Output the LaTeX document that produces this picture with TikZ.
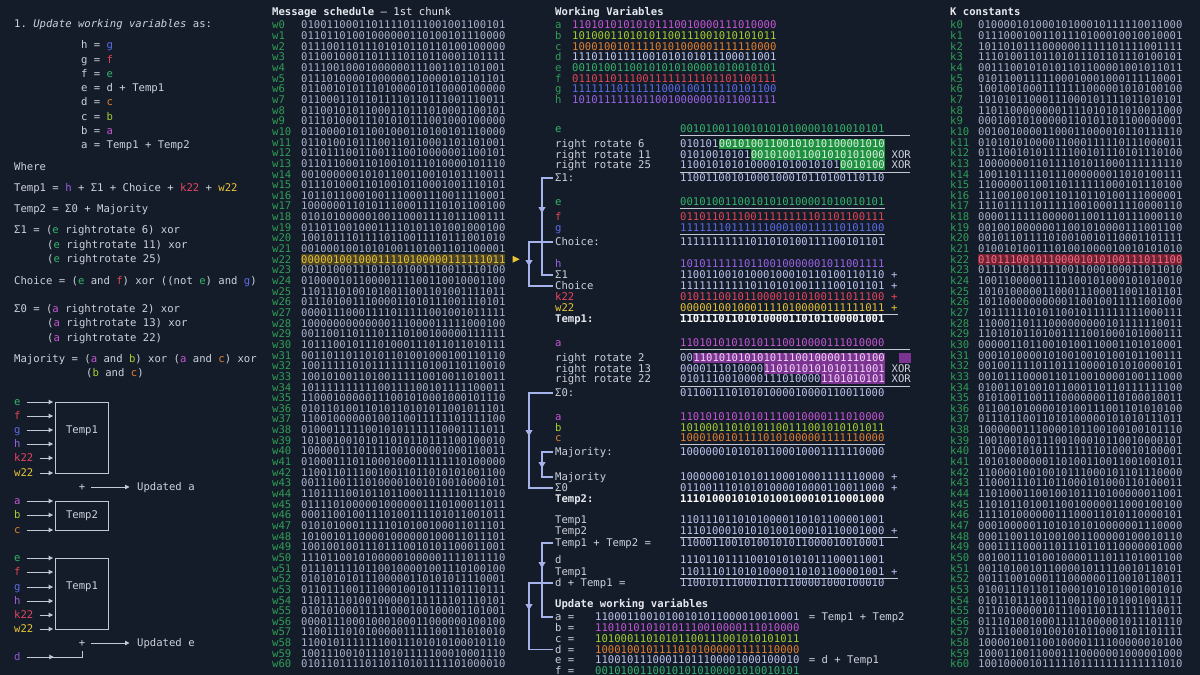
\documentclass[tikz,border=0pt]{standalone}
\usepackage{fontspec}
\setmainfont{DejaVu Sans Mono}
\usetikzlibrary{arrows.meta,positioning,decorations.markings}

\definecolor{bg}{HTML}{141B29}
\definecolor{fg}{HTML}{CDD2DC}
\definecolor{hd}{HTML}{E6E9EF}
\definecolor{bitc}{HTML}{A9B3CC}
\definecolor{lab}{HTML}{2F9E55}
\definecolor{wvb}{HTML}{BCC5EE}
\definecolor{ca}{HTML}{C656D6}
\definecolor{cb}{HTML}{A4D030}
\definecolor{cc}{HTML}{E3812F}
\definecolor{cd}{HTML}{C3CBF4}
\definecolor{cdl}{HTML}{9358D8}
\definecolor{ce}{HTML}{34B56B}
\definecolor{cf}{HTML}{E24654}
\definecolor{cg}{HTML}{5C6DE8}
\definecolor{ch}{HTML}{9B63E6}
\definecolor{ck}{HTML}{E4465F}
\definecolor{cw}{HTML}{E8C434}
\definecolor{brk}{HTML}{A6B2EA}
\definecolor{uln}{HTML}{C3C8D4}
\definecolor{hlgreen}{HTML}{1F9040}
\definecolor{hlgtext}{HTML}{D8F2DE}
\definecolor{hlpurple}{HTML}{7C3492}
\definecolor{hlptext}{HTML}{F2D4F6}
\definecolor{wybg}{HTML}{4A4226}
\definecolor{krbg}{HTML}{6E2233}
\definecolor{krtext}{HTML}{FF6A82}

% 32-bit words as strings of 0/1
\ExplSyntaxOn
\tl_new:N \l_sha_tmp_tl
\tl_new:N \l_sha_p_tl
\tl_new:N \l_sha_q_tl
\tl_new:N \l_sha_r_tl
\tl_new:N \l_sha_x_tl
\tl_new:N \l_sha_sa_tl
\tl_new:N \l_sha_sb_tl
\clist_new:N \l_sha_words_clist
\int_new:N \l_sha_sum_int
\int_new:N \l_sha_carry_int
\int_new:N \l_sha_i_int
\clist_map_inline:nn { a, b, c, d, e, f, g, h, bsone, ch, tone, bszero, maj, ttwo, na, ne,
  ersix, ereleven, ertwentyfive, artwo, arthirteen, artwentytwo }
  { \tl_new:c { l_sha_#1_tl } }

\cs_new:Npn \sha_hexdigit:n #1
  {
    \str_case:nn {#1}
      { {0}{0000} {1}{0001} {2}{0010} {3}{0011} {4}{0100} {5}{0101} {6}{0110} {7}{0111}
        {8}{1000} {9}{1001} {a}{1010} {b}{1011} {c}{1100} {d}{1101} {e}{1110} {f}{1111} }
  }
\cs_new:Npn \sha_hexbin:n #1 { \tl_map_function:nN {#1} \sha_hexdigit:n }
\cs_new:Npn \sha_rotr:Nn #1#2
  { \str_range:Nnn #1 { 33 - #2 } { 32 } \str_range:Nnn #1 { 1 } { 32 - #2 } }
\cs_new:Npn \sha_shr:Nn #1#2
  { \prg_replicate:nn {#2} { 0 } \str_range:Nnn #1 { 1 } { 32 - #2 } }
\cs_new:Npn \sha_xorbit:nnn #1#2#3 { \int_eval:n { \int_mod:nn { #1 + #2 + #3 } { 2 } } }
\cs_new:Npn \sha_chbit:nnn #1#2#3 { \int_eval:n { #1 * #2 + ( 1 - #1 ) * #3 } }
\cs_new:Npn \sha_majbit:nnn #1#2#3 { \int_eval:n { \int_div_truncate:nn { #1 + #2 + #3 } { 2 } } }

\cs_new_protected:Npn \sha_bitwise:NNNNN #1#2#3#4#5
  {
    \tl_clear:N \l_sha_tmp_tl
    \int_step_inline:nn { 32 }
      {
        \tl_put_right:Nx \l_sha_tmp_tl
          { #2 { \str_item:Nn #3 {##1} } { \str_item:Nn #4 {##1} } { \str_item:Nn #5 {##1} } }
      }
    \tl_set_eq:NN #1 \l_sha_tmp_tl
  }
\cs_new_protected:Npn \sha_add:Nn #1#2
  {
    \clist_set:Nx \l_sha_words_clist {#2}
    \tl_clear:N \l_sha_tmp_tl
    \int_zero:N \l_sha_carry_int
    \int_step_inline:nnnn { 32 } { -1 } { 1 }
      {
        \int_set_eq:NN \l_sha_sum_int \l_sha_carry_int
        \clist_map_inline:Nn \l_sha_words_clist
          { \int_add:Nn \l_sha_sum_int { \str_item:nn {####1} {##1} } }
        \tl_put_left:Nx \l_sha_tmp_tl { \int_eval:n { \int_mod:nn { \l_sha_sum_int } { 2 } } }
        \int_set:Nn \l_sha_carry_int { \int_div_truncate:nn { \l_sha_sum_int } { 2 } }
      }
    \tl_set_eq:NN #1 \l_sha_tmp_tl
  }
\cs_new_protected:Npn \sha_bigsig:NNnnn #1#2#3#4#5
  {
    \tl_set:Nx \l_sha_p_tl { \sha_rotr:Nn #2 {#3} }
    \tl_set:Nx \l_sha_q_tl { \sha_rotr:Nn #2 {#4} }
    \tl_set:Nx \l_sha_r_tl { \sha_rotr:Nn #2 {#5} }
    \sha_bitwise:NNNNN #1 \sha_xorbit:nnn \l_sha_p_tl \l_sha_q_tl \l_sha_r_tl
  }
\cs_new_protected:Npn \sha_smallsig:NNnnn #1#2#3#4#5
  {
    \tl_set:Nx \l_sha_p_tl { \sha_rotr:Nn #2 {#3} }
    \tl_set:Nx \l_sha_q_tl { \sha_rotr:Nn #2 {#4} }
    \tl_set:Nx \l_sha_r_tl { \sha_shr:Nn #2 {#5} }
    \sha_bitwise:NNNNN #1 \sha_xorbit:nnn \l_sha_p_tl \l_sha_q_tl \l_sha_r_tl
  }
\cs_new_protected:Npn \sha_store:nn #1#2
  {
    \int_zero:N \l_sha_i_int
    \clist_map_inline:nn {#2}
      {
        \tl_gset:cx { g_sha_#1_ \int_use:N \l_sha_i_int _tl } { \sha_hexbin:n {##1} }
        \int_incr:N \l_sha_i_int
      }
  }
\cs_new_protected:Npn \sha_steps:n #1
  {
    \sha_bigsig:NNnnn \l_sha_bsone_tl \l_sha_e_tl { 6 } { 11 } { 25 }
    \sha_bitwise:NNNNN \l_sha_ch_tl \sha_chbit:nnn \l_sha_e_tl \l_sha_f_tl \l_sha_g_tl
    \sha_add:Nn \l_sha_tone_tl
      { \l_sha_h_tl , \l_sha_bsone_tl , \l_sha_ch_tl , \tl_use:c { g_sha_k_#1_tl } , \tl_use:c { g_sha_w_#1_tl } }
    \sha_bigsig:NNnnn \l_sha_bszero_tl \l_sha_a_tl { 2 } { 13 } { 22 }
    \sha_bitwise:NNNNN \l_sha_maj_tl \sha_majbit:nnn \l_sha_a_tl \l_sha_b_tl \l_sha_c_tl
    \sha_add:Nn \l_sha_ttwo_tl { \l_sha_bszero_tl , \l_sha_maj_tl }
    \sha_add:Nn \l_sha_na_tl { \l_sha_tone_tl , \l_sha_ttwo_tl }
    \sha_add:Nn \l_sha_ne_tl { \l_sha_d_tl , \l_sha_tone_tl }
  }
\cs_new_protected:Npn \sha_round:n #1
  {
    \sha_steps:n {#1}
    \tl_set_eq:NN \l_sha_h_tl \l_sha_g_tl
    \tl_set_eq:NN \l_sha_g_tl \l_sha_f_tl
    \tl_set_eq:NN \l_sha_f_tl \l_sha_e_tl
    \tl_set_eq:NN \l_sha_e_tl \l_sha_ne_tl
    \tl_set_eq:NN \l_sha_d_tl \l_sha_c_tl
    \tl_set_eq:NN \l_sha_c_tl \l_sha_b_tl
    \tl_set_eq:NN \l_sha_b_tl \l_sha_a_tl
    \tl_set_eq:NN \l_sha_a_tl \l_sha_na_tl
  }

% first chunk: "Lorem ipsum dolor sit amet, consectetur adipiscing elit. Vestibu"
\sha_store:nn { w }
  { 4c6f7265, 6d206970, 73756d20, 646f6c6f, 72207369, 7420616d, 65742c20, 636f6e73,
    65637465, 74757220, 61646970, 69736369, 6e672065, 6c69742e, 20566573, 74696275 }
\sha_store:nn { k }
  { 428a2f98, 71374491, b5c0fbcf, e9b5dba5, 3956c25b, 59f111f1, 923f82a4, ab1c5ed5,
    d807aa98, 12835b01, 243185be, 550c7dc3, 72be5d74, 80deb1fe, 9bdc06a7, c19bf174,
    e49b69c1, efbe4786, 0fc19dc6, 240ca1cc, 2de92c6f, 4a7484aa, 5cb0a9dc, 76f988da,
    983e5152, a831c66d, b00327c8, bf597fc7, c6e00bf3, d5a79147, 06ca6351, 14292967,
    27b70a85, 2e1b2138, 4d2c6dfc, 53380d13, 650a7354, 766a0abb, 81c2c92e, 92722c85,
    a2bfe8a1, a81a664b, c24b8b70, c76c51a3, d192e819, d6990624, f40e3585, 106aa070,
    19a4c116, 1e376c08, 2748774c, 34b0bcb5, 391c0cb3, 4ed8aa4a, 5b9cca4f, 682e6ff3,
    748f82ee, 78a5636f, 84c87814, 8cc70208, 90befffa }
\int_step_inline:nnn { 16 } { 60 }
  {
    \tl_set_eq:Nc \l_sha_x_tl { g_sha_w_ \int_eval:n { #1 - 2 } _tl }
    \sha_smallsig:NNnnn \l_sha_sb_tl \l_sha_x_tl { 17 } { 19 } { 10 }
    \tl_set_eq:Nc \l_sha_x_tl { g_sha_w_ \int_eval:n { #1 - 15 } _tl }
    \sha_smallsig:NNnnn \l_sha_sa_tl \l_sha_x_tl { 7 } { 18 } { 3 }
    \sha_add:Nn \l_sha_x_tl
      { \l_sha_sb_tl , \tl_use:c { g_sha_w_ \int_eval:n { #1 - 7 } _tl } ,
        \l_sha_sa_tl , \tl_use:c { g_sha_w_ \int_eval:n { #1 - 16 } _tl } }
    \tl_gset_eq:cN { g_sha_w_ #1 _tl } \l_sha_x_tl
  }
\tl_set:Nx \l_sha_a_tl { \sha_hexbin:n { 6a09e667 } }
\tl_set:Nx \l_sha_b_tl { \sha_hexbin:n { bb67ae85 } }
\tl_set:Nx \l_sha_c_tl { \sha_hexbin:n { 3c6ef372 } }
\tl_set:Nx \l_sha_d_tl { \sha_hexbin:n { a54ff53a } }
\tl_set:Nx \l_sha_e_tl { \sha_hexbin:n { 510e527f } }
\tl_set:Nx \l_sha_f_tl { \sha_hexbin:n { 9b05688c } }
\tl_set:Nx \l_sha_g_tl { \sha_hexbin:n { 1f83d9ab } }
\tl_set:Nx \l_sha_h_tl { \sha_hexbin:n { 5be0cd19 } }
\int_step_inline:nnn { 0 } { 22 } { \sha_round:n {#1} }
% the step shown with k22 and w22
\sha_steps:n { 22 }
\tl_set:Nx \l_sha_ersix_tl { \sha_rotr:Nn \l_sha_e_tl { 6 } }
\tl_set:Nx \l_sha_ereleven_tl { \sha_rotr:Nn \l_sha_e_tl { 11 } }
\tl_set:Nx \l_sha_ertwentyfive_tl { \sha_rotr:Nn \l_sha_e_tl { 25 } }
\tl_set:Nx \l_sha_artwo_tl { \sha_rotr:Nn \l_sha_a_tl { 2 } }
\tl_set:Nx \l_sha_arthirteen_tl { \sha_rotr:Nn \l_sha_a_tl { 13 } }
\tl_set:Nx \l_sha_artwentytwo_tl { \sha_rotr:Nn \l_sha_a_tl { 22 } }

\cs_new:Npn \shaW #1 { \tl_use:c { g_sha_w_#1_tl } }
\cs_new:Npn \shaK #1 { \tl_use:c { g_sha_k_#1_tl } }
\cs_new:Npn \shaV #1 { \tl_use:c { l_sha_#1_tl } }
\cs_new:Npn \shaPart #1#2#3 { \exp_args:Nc \str_range:Nnn { l_sha_#1_tl } {#2} {#3} }
\ExplSyntaxOff

\newcommand{\vc}[2]{\textcolor{#1}{#2}}
\newcommand{\fs}{\fontsize{10.6pt}{12pt}\selectfont\frenchspacing}

\begin{document}
\begin{tikzpicture}[x=1pt, y=-1pt,
  txt/.style={anchor=west, inner sep=0pt, text height=7.8pt, text depth=0pt, font=\fs, text=fg},
  bold/.style={txt, font=\fs\bfseries, text=hd},
  lbl/.style={txt, text=lab},
  bits/.style={txt, text=bitc},
  wv/.style={txt, text=wvb},
  hlg/.style={txt, fill=hlgreen, text=hlgtext, inner ysep=1.5pt},
  hlp/.style={txt, fill=hlpurple, text=hlptext, inner ysep=1.5pt},
  uline/.style={draw=uln, line width=1.2pt},
  lnk/.style={draw=uln, line width=0.9pt},
  flow/.style={lnk, -{Triangle[length=4.5pt,width=4.5pt]}, shorten >=1.5pt},
  box/.style={draw=uln, line width=0.9pt, minimum width=53pt, inner sep=0pt},
  bracket/.style={brk, line width=1.1pt},
  tipat/.style={postaction={decorate, decoration={markings,
    mark=at position #1 with {\arrow{Triangle[length=6pt,width=7pt]}}}}},
  dtip/.style={postaction={decorate, decoration={markings,
    mark=at position #1 with {\arrow{Triangle[length=4.5pt,width=4.5pt]}}}}}]

  \fill[bg] (0,0) rectangle (1200,675);
  \useasboundingbox (0,0) rectangle (1200,675);

  % ---------- left: the round in words ----------
  \node[txt] (upd) at (14,24) {1. {\itshape Update working variables} as:};
  \node[txt] (uh) at (81,45) {h = \vc{cg}{g}};
  \node[txt] (ug) at (81,59.5) {g = \vc{cf}{f}};
  \node[txt] (uf) at (81,74) {f = \vc{ce}{e}};
  \node[txt] (ue) at (81,88) {e = d + Temp1};
  \node[txt] (ud) at (81,102) {d = \vc{cc}{c}};
  \node[txt] (uc) at (81,117) {c = \vc{cb}{b}};
  \node[txt] (ub) at (81,131) {b = \vc{ca}{a}};
  \node[txt] (ua) at (81,145) {a = Temp1 + Temp2};
  \node[txt] (where) at (14,167) {Where};
  \node[txt] (ftone) at (14,188) {Temp1 = \vc{ch}{h} + Σ1 + Choice + \vc{ck}{k22} + \vc{cw}{w22}};
  \node[txt] (fttwo) at (14,209) {Temp2 = Σ0 + Majority};
  \node[txt] (fsone) at (14,230) {Σ1 = (\vc{ce}{e} rightrotate 6) xor};
  \node[txt] (fsoneb) at (47,245) {(\vc{ce}{e} rightrotate 11) xor};
  \node[txt] (fsonec) at (47,259) {(\vc{ce}{e} rightrotate 25)};
  \node[txt] (fch) at (14,281) {Choice = (\vc{ce}{e} and \vc{cf}{f}) xor ((not \vc{ce}{e}) and \vc{cg}{g})};
  \node[txt] (fszero) at (14,309) {Σ0 = (\vc{ca}{a} rightrotate 2) xor};
  \node[txt] (fszerob) at (47,323) {(\vc{ca}{a} rightrotate 13) xor};
  \node[txt] (fszeroc) at (47,337.5) {(\vc{ca}{a} rightrotate 22)};
  \node[txt] (fmaj) at (14,359) {Majority = (\vc{ca}{a} and \vc{cb}{b}) xor (\vc{ca}{a} and \vc{cc}{c}) xor};
  \node[txt] (fmajb) at (86,373) {(\vc{cb}{b} and \vc{cc}{c})};

  % boxes
  \node[box, minimum height=71pt] (tbox1) at (81.5,437.5) {};
  \node[txt, anchor=center] (tbox1t) at (82,430) {Temp1};
  \foreach \n/\c/\y in {e/ce/402, f/cf/416, g/cg/430, h/ch/444, k22/ck/458, w22/cw/473} {
    \node[txt, text=\c] (ia\n) at (14,\y) {\n};
    \draw[flow] ([xshift=6pt]ia\n.east) -- (ia\n.east -| tbox1.west);
  }
  \node[txt, anchor=center] (plusa) at (82,487) {+};
  \node[txt] (upa) at (137,487) {Updated a};
  \draw[flow] ([xshift=6pt]plusa.east) -- ([xshift=-6pt]upa.west);

  \node[box, minimum height=29pt] (tbox2) at (81.5,515.5) {};
  \node[txt, anchor=center] (tbox2t) at (82,515) {Temp2};
  \foreach \n/\c/\y in {a/ca/501, b/cb/515, c/cc/530} {
    \node[txt, text=\c] (ib\n) at (14,\y) {\n};
    \draw[flow] ([xshift=6pt]ib\n.east) -- (ib\n.east -| tbox2.west);
  }

  \node[box, minimum height=71pt] (tbox3) at (81.5,593.5) {};
  \node[txt, anchor=center] (tbox3t) at (82,586) {Temp1};
  \foreach \n/\c/\y in {e/ce/558, f/cf/572, g/cg/587, h/ch/601, k22/ck/615, w22/cw/629} {
    \node[txt, text=\c] (ic\n) at (14,\y) {\n};
    \draw[flow] ([xshift=6pt]ic\n.east) -- (ic\n.east -| tbox3.west);
  }
  \node[txt, anchor=center] (pluse) at (82,643) {+};
  \node[txt] (upe) at (137,643) {Updated e};
  \draw[flow] ([xshift=6pt]pluse.east) -- ([xshift=-6pt]upe.west);
  \node[txt, text=cdl] (icd) at (14,657) {d};
  \draw[lnk, dtip=27pt] ([xshift=6pt]icd.east) -| ([yshift=-4pt]pluse.south);

  % ---------- message schedule and K constants ----------
  \node[txt, text=hd] (msh) at (272,12) {{\bfseries Message schedule} – 1st chunk};
  \node[bold] (kh) at (950,12) {K constants};
  \foreach \i in {0,...,60} {
    \pgfmathsetmacro{\ry}{25+10.65*\i}
    \node[lbl] (w\i) at (272,\ry) {w\i};
    \node[lbl] (k\i) at (950,\ry) {k\i};
    \ifnum\i=22\relax
      \node[txt, text=cw, fill=wybg, inner ysep=1.5pt] (wb\i) at (301,\ry) {\shaW{\i}};
      \node[txt, text=krtext, fill=krbg, inner ysep=1.5pt] (kb\i) at (978,\ry) {\shaK{\i}};
    \else
      \node[bits] (wb\i) at (301,\ry) {\shaW{\i}};
      \node[bits] (kb\i) at (978,\ry) {\shaK{\i}};
    \fi
  }
  \fill[cw] ([xshift=7pt,yshift=3.5pt]wb22.east) -- ([xshift=14pt]wb22.east)
    -- ([xshift=7pt,yshift=-3.5pt]wb22.east) -- cycle;

  % ---------- working variables ----------
  \node[bold] (wvh) at (555,12) {Working Variables};
  \foreach \v/\c [count=\j from 0] in {a/ca, b/cb, c/cc, d/cd, e/ce, f/cf, g/cg, h/ch} {
    \pgfmathsetmacro{\ry}{25+10.65*\j}
    \node[lbl] (wl\v) at (555,\ry) {\v};
    \node[txt, text=\c] (wr\v) at (572,\ry) {\shaV{\v}};
  }

  % Sigma 1
  \node[txt, text=ce] (eal) at (555,129) {e};
  \node[txt, text=ce] (eav) at (680,129) {\shaV{e}};
  \draw[uline] ([yshift=-2.5pt]eav.south west) -- ++(230,0);
  \node[txt] (rsixl) at (555,144) {right rotate 6};
  \node[wv] (rsixa) at (680,144) {\shaPart{ersix}{1}{6}};
  \node[hlg] (rsixb) at (rsixa.east) {\shaPart{ersix}{7}{32}};
  \node[txt] (relevl) at (555,154.5) {right rotate 11};
  \node[wv] (releva) at (680,154.5) {\shaPart{ereleven}{1}{11}};
  \node[hlg] (relevb) at (releva.east) {\shaPart{ereleven}{12}{32}};
  \node[txt, right=6.4pt of relevb] (relevx) {XOR};
  \node[txt] (rtwfl) at (555,165) {right rotate 25};
  \node[wv] (rtwfa) at (680,165) {\shaPart{ertwentyfive}{1}{25}};
  \node[hlg] (rtwfb) at (rtwfa.east) {\shaPart{ertwentyfive}{26}{32}};
  \node[txt, right=6.4pt of rtwfb] (rtwfx) {XOR};
  \draw[uline] ([yshift=-3pt]rtwfa.south west) -- ++(230,0);
  \node[txt] (sonel) at (555,178) {Σ1:};
  \node[wv] (sonev) at (680,178) {\shaV{bsone}};

  % Choice
  \node[txt, text=ce] (ebl) at (555,202) {e};
  \node[txt, text=ce] (ebv) at (680,202) {\shaV{e}};
  \draw[uline] ([yshift=-2.5pt]ebv.south west) -- ([yshift=-2.5pt]ebv.south east);
  \node[txt, text=cf] (fbl) at (555,217) {f};
  \node[txt, text=cf] (fbv) at (680,217) {\shaV{f}};
  \node[txt, text=cg] (gbl) at (555,228) {g};
  \node[txt, text=cg] (gbv) at (680,228) {\shaV{g}};
  \draw[uline] ([yshift=-2.5pt]gbv.south west) -- ([yshift=-2.5pt]gbv.south east);
  \node[txt] (chl) at (555,242) {Choice:};
  \node[wv] (chv) at (680,242) {\shaV{ch}};

  % Temp1
  \node[txt, text=ch] (hcl) at (555,264) {h};
  \node[txt, text=ch] (hcv) at (680,264) {\shaV{h}};
  \node[txt] (sonecl) at (555,275) {Σ1};
  \node[wv] (sonecv) at (680,275) {\shaV{bsone}};
  \node[wv, right=6.4pt of sonecv] (sonecp) {+};
  \node[txt] (chcl) at (555,286) {Choice};
  \node[wv] (chcv) at (680,286) {\shaV{ch}};
  \node[wv, right=6.4pt of chcv] (chcp) {+};
  \node[txt, text=ck] (kcl) at (555,297) {k22};
  \node[txt, text=ck] (kcv) at (680,297) {\shaK{22}};
  \node[txt, text=ck, right=6.4pt of kcv] (kcp) {+};
  \node[txt, text=cw] (wcl) at (555,307.5) {w22};
  \node[txt, text=cw] (wcv) at (680,307.5) {\shaW{22}};
  \node[txt, text=cw, right=6.4pt of wcv] (wcp) {+};
  \draw[uline] ([yshift=-2.5pt]wcv.south west) -- ++(218,0);
  \node[bold] (tonel) at (555,319) {Temp1:};
  \node[bold, text=white] (tonev) at (680,319) {\shaV{tone}};

  % Sigma 0
  \node[txt, text=ca] (aal) at (555,343) {a};
  \node[txt, text=ca] (aav) at (680,343) {\shaV{a}};
  \draw[uline] ([yshift=-2.5pt]aav.south west) -- ++(230,0);
  \node[txt] (rtwol) at (555,358) {right rotate 2};
  \node[wv] (rtwoa) at (680,358) {\shaPart{artwo}{1}{2}};
  \node[hlp] (rtwob) at (rtwoa.east) {\shaPart{artwo}{3}{32}};
  \fill[hlpurple] (899,353) rectangle (911,363);
  \node[txt] (rthirl) at (555,368.5) {right rotate 13};
  \node[wv] (rthira) at (680,368.5) {\shaPart{arthirteen}{1}{13}};
  \node[hlp] (rthirb) at (rthira.east) {\shaPart{arthirteen}{14}{32}};
  \node[txt, right=6.4pt of rthirb] (rthirx) {XOR};
  \node[txt] (rtwtl) at (555,379) {right rotate 22};
  \node[wv] (rtwta) at (680,379) {\shaPart{artwentytwo}{1}{22}};
  \node[hlp] (rtwtb) at (rtwta.east) {\shaPart{artwentytwo}{23}{32}};
  \node[txt, right=6.4pt of rtwtb] (rtwtx) {XOR};
  \draw[uline] ([yshift=-3pt]rtwta.south west) -- ++(230,0);
  \node[txt] (szerol) at (555,393) {Σ0:};
  \node[wv] (szerov) at (680,393) {\shaV{bszero}};

  % Majority
  \node[txt, text=ca] (abl) at (555,417) {a};
  \node[txt, text=ca] (abv) at (680,417) {\shaV{a}};
  \node[txt, text=cb] (bbl) at (555,427.5) {b};
  \node[txt, text=cb] (bbv) at (680,427.5) {\shaV{b}};
  \node[txt, text=cc] (cbl) at (555,438) {c};
  \node[txt, text=cc] (cbv) at (680,438) {\shaV{c}};
  \draw[uline] ([yshift=-2.5pt]cbv.south west) -- ([yshift=-2.5pt]cbv.south east);
  \node[txt] (majl) at (555,452) {Majority:};
  \node[wv] (majv) at (680,452) {\shaV{maj}};

  % Temp2
  \node[txt] (majcl) at (555,477) {Majority};
  \node[wv] (majcv) at (680,477) {\shaV{maj}};
  \node[wv, right=6.4pt of majcv] (majcp) {+};
  \node[txt] (szerocl) at (555,488) {Σ0};
  \node[wv] (szerocv) at (680,488) {\shaV{bszero}};
  \node[wv, right=6.4pt of szerocv] (szerocp) {+};
  \node[bold] (ttwol) at (555,499) {Temp2:};
  \node[bold, text=white] (ttwov) at (680,499) {\shaV{ttwo}};

  % new a and new e
  \node[txt] (tadl) at (555,520) {Temp1};
  \node[wv] (tadv) at (680,520) {\shaV{tone}};
  \node[txt] (tbdl) at (555,531) {Temp2};
  \node[wv] (tbdv) at (680,531) {\shaV{ttwo}};
  \node[wv, right=6.4pt of tbdv] (tbdp) {+};
  \draw[uline] ([yshift=-2.5pt]tbdv.south west) -- ++(218,0);
  \node[txt] (nal) at (555,543) {Temp1 + Temp2 =};
  \node[wv] (nav) at (680,543) {\shaV{na}};
  \node[txt] (ddl) at (555,560) {d};
  \node[txt, text=cd] (ddv) at (680,560) {\shaV{d}};
  \node[txt] (tedl) at (555,572) {Temp1};
  \node[wv] (tedv) at (680,572) {\shaV{tone}};
  \node[wv, right=6.4pt of tedv] (tedp) {+};
  \draw[uline] ([yshift=-2.5pt]tedv.south west) -- ++(218,0);
  \node[txt] (nel) at (555,583) {d + Temp1 =};
  \node[wv] (nev) at (680,583) {\shaV{ne}};

  % update
  \node[bold] (uph) at (555,604) {Update working variables};
  \node[txt] (upal) at (555,617) {a =};
  \node[wv] (upav) at (595,617) {\shaV{na}};
  \node[txt, right=9pt of upav] (upan) {= Temp1 + Temp2};
  \node[txt] (upbl) at (555,628) {b =};
  \node[txt, text=ca] (upbv) at (595,628) {\shaV{a}};
  \node[txt] (upcl) at (555,639) {c =};
  \node[txt, text=cb] (upcv) at (595,639) {\shaV{b}};
  \node[txt] (updl) at (555,649.5) {d =};
  \node[txt, text=cc] (updv) at (595,649.5) {\shaV{c}};
  \node[txt] (upel) at (555,660) {e =};
  \node[wv] (upev) at (595,660) {\shaV{ne}};
  \node[txt, right=9pt of upev] (upen) {= d + Temp1};
  \node[txt] (upfl) at (555,670.5) {f =};
  \node[txt, text=ce] (upfv) at (595,670.5) {\shaV{e}};

  % brackets carrying results down
  \draw[bracket, tipat=46pt] ([xshift=-2pt]sonel.west) -| ([xshift=-13pt]sonecl.west) -- ([xshift=-2pt]sonecl.west);
  \draw[bracket, tipat=48pt] ([xshift=-2pt]chl.west) -| ([xshift=-26pt]chcl.west) -- ([xshift=-2pt]chcl.west);
  \draw[bracket, tipat=67pt] ([xshift=-2pt]szerol.west) -| ([xshift=-26pt]szerocl.west) -- ([xshift=-2pt]szerocl.west);
  \draw[bracket, tipat=27pt] ([xshift=-2pt]majl.west) -| ([xshift=-13pt]majcl.west) -- ([xshift=-2pt]majcl.west);
  \draw[bracket, tipat=36pt] ([xshift=-2pt]nal.west) -| ([xshift=-13pt]upal.west) -- ([xshift=-2pt]upal.west);
  \draw[bracket, tipat=51pt] ([xshift=-2pt]nel.west) -| ([xshift=-26pt]updl.west) -- ([xshift=-2pt]updl.west);

\end{tikzpicture}
\end{document}
